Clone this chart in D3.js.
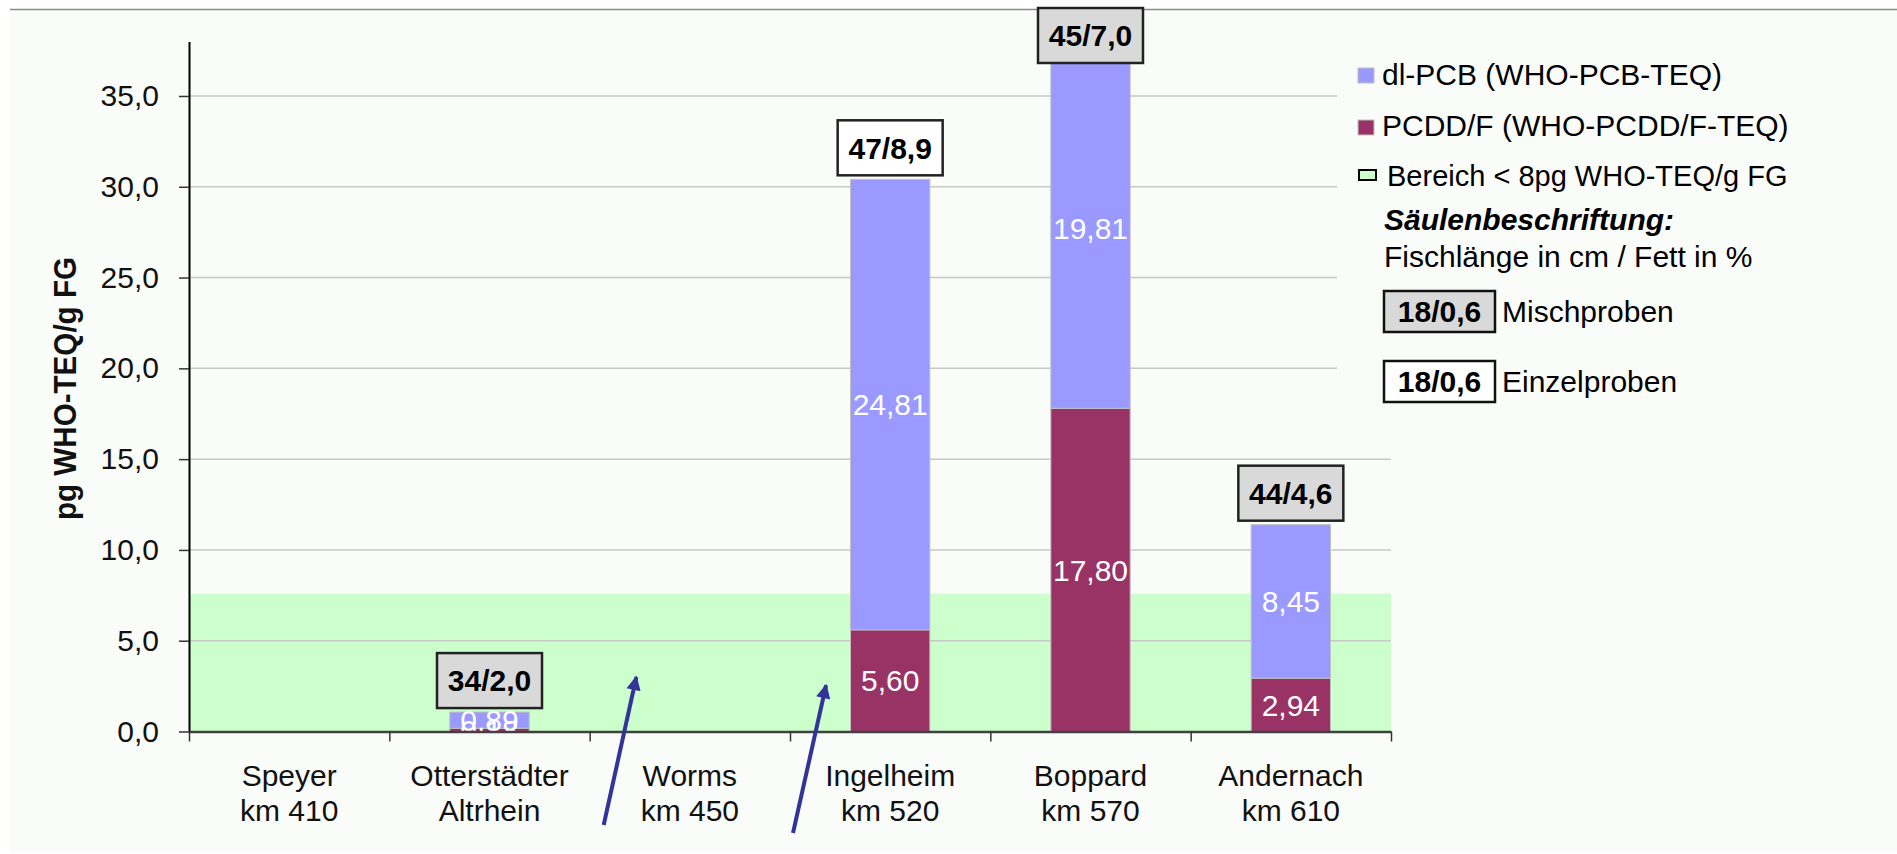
<!DOCTYPE html>
<html>
<head>
<meta charset="utf-8">
<script src="https://cdn.jsdelivr.net/npm/d3@7"></script>
<style>
body { margin: 0; background: #fff; }
text { font-family: "Liberation Sans", Arial, sans-serif; }
</style>
</head>
<body>
<svg id="chart" width="1897" height="854"></svg>
<script>
// sites (two-line category labels)
var siteNames = ["Speyer", "Otterstädter", "Worms", "Ingelheim", "Boppard", "Andernach"];
var siteSub = ["km 410", "Altrhein", "km 450", "km 520", "km 570", "km 610"];

// stacked values, pg WHO-TEQ/g FG
var pcddf = [null, 0.18, null, 5.60, 17.80, 2.94];
var dlpcb = [null, 0.89, null, 24.81, 19.81, 8.45];

// column labels: fish length cm / fat %
var fishLabels = [null, "34/2,0", null, "47/8,9", "45/7,0", "44/4,6"];
var sampleType = [null, "misch", null, "einzel", "misch", "misch"];

var yTicks = [0, 5, 10, 15, 20, 25, 30, 35];
var limitBand = 7.6;   // green area drawn up to here

// arrows pointing at the sites without data: [site, offset in band, value at tip]
var arrowSites = ["Worms", "Ingelheim"];
var arrowTipOffset = [0.233, 0.18];
var arrowTipValue = [3.0, 2.55];
var arrowTailOffset = [0.07, 0.015];

var colPCB = "#9999FF", colPCDD = "#993366", colGreen = "#CCFFCC", bg = "#FAFCF9";

var de = d3.formatLocale({decimal: ",", thousands: ".", grouping: [3], currency: ["", " €"]});
var fmt1 = de.format(".1f"), fmt2 = de.format(".2f");

var svg = d3.select("#chart");
// NB: don't call these top/left... window.top is read only
var pL = 189, pR = 1391, pT = 41.5, pB = 731.5;

var y = d3.scaleLinear().domain([0, 38]).range([pB, pT]);
var xCat = d3.scaleBand().domain(siteNames).range([pL, pR]);          // full category slots
var x = d3.scaleBand().domain(siteNames).range([pL, pR]).paddingInner(0.604).paddingOuter(0.302);
var xIdx = d3.scaleLinear().domain([0, siteNames.length]).range([pL, pR]);

// page background + frame line
svg.append("rect").attr("x", 10).attr("y", 10).attr("width", 1887).attr("height", 842).attr("fill", bg);
svg.append("line").attr("x1", 10).attr("x2", 1897).attr("y1", 9.5).attr("y2", 9.5)
    .attr("stroke", "#8a8a8a").attr("stroke-width", 1.5);

// green "< 8pg" area
svg.append("rect").attr("x", pL).attr("width", pR - pL)
    .attr("y", y(limitBand)).attr("height", y(0) - y(limitBand)).attr("fill", colGreen);

// gridlines
svg.append("g").selectAll("line").data(yTicks.filter(function (d) { return d > 0; })).join("line")
    .attr("x1", pL).attr("x2", pR)
    .attr("y1", function (d) { return y(d); }).attr("y2", function (d) { return y(d); })
    .attr("stroke", "#c8c8c8").attr("stroke-width", 1.5);

// build stack rows
var rows = siteNames.map(function (s, i) {
    return {site: s, pcdd: pcddf[i], pcb: dlpcb[i], label: fishLabels[i], type: sampleType[i]};
}).filter(function (r) { return r.pcdd != null; });

var stack = d3.stack().keys(["pcdd", "pcb"])(rows);
var colors = {pcdd: colPCDD, pcb: colPCB};

var bars = svg.append("g");
stack.forEach(function (layer) {
    bars.selectAll(null).data(layer).join("rect")
        .attr("x", function (d) { return x(d.data.site); })
        .attr("width", x.bandwidth())
        .attr("y", function (d) { return y(d[1]); })
        .attr("height", function (d) { return y(d[0]) - y(d[1]); })
        .attr("fill", colors[layer.key])
        .attr("stroke", "#c0c0c0").attr("stroke-width", 1);
});

// value labels inside segments, clipped to plot
svg.append("clipPath").attr("id", "plotclip").append("rect")
    .attr("x", pL).attr("y", 0).attr("width", pR - pL).attr("height", pB);
var vl = svg.append("g").attr("clip-path", "url(#plotclip)");
stack.forEach(function (layer) {
    vl.selectAll(null).data(layer).join("text")
        .attr("x", function (d) { return x(d.data.site) + x.bandwidth() / 2; })
        .attr("y", function (d) { return (y(d[0]) + y(d[1])) / 2; })
        .attr("dy", "0.36em")
        .attr("text-anchor", "middle")
        .attr("fill", "#fff").attr("font-size", 30)
        .text(function (d) { return fmt2(d.data[layer.key]); });
});

// y axis
var yAxis = svg.append("g").attr("transform", "translate(" + pL + ",0)")
    .call(d3.axisLeft(y).tickValues(yTicks).tickFormat(fmt1).tickSize(10).tickSizeOuter(0).tickPadding(20));
yAxis.select(".domain").attr("stroke", "#000").attr("stroke-width", 2);
yAxis.selectAll(".tick line").attr("stroke", "#333").attr("stroke-width", 1.5);
yAxis.selectAll(".tick text").attr("font-size", 30).attr("fill", "#111")
    .style("font-family", '"Liberation Sans", Arial, sans-serif');

// x axis (slot boundaries as ticks)
var xAxis = svg.append("g").attr("transform", "translate(0," + pB + ")")
    .call(d3.axisBottom(xIdx).tickValues(d3.range(siteNames.length + 1)).tickFormat("").tickSize(10).tickSizeOuter(0));
xAxis.select(".domain").attr("stroke", "#404040").attr("stroke-width", 2.5);
xAxis.selectAll(".tick line").attr("stroke", "#333").attr("stroke-width", 1.5);

var cl = svg.append("g").selectAll("g").data(siteNames).join("g")
    .attr("transform", function (d) { return "translate(" + (xCat(d) + xCat.bandwidth() / 2) + ",0)"; });
cl.append("text").attr("y", 786).attr("text-anchor", "middle").attr("font-size", 30).attr("fill", "#111")
    .text(function (d) { return d; });
cl.append("text").attr("y", 821).attr("text-anchor", "middle").attr("font-size", 30).attr("fill", "#111")
    .text(function (d, i) { return siteSub[i]; });

// y title
svg.append("text").attr("transform", "translate(76,388.5) rotate(-90)")
    .attr("text-anchor", "middle").attr("font-size", 31).attr("font-weight", "bold").attr("fill", "#111")
    .attr("textLength", 263).attr("lengthAdjust", "spacingAndGlyphs")
    .text("pg WHO-TEQ/g FG");

// label boxes above the columns
var bw = 105, bh = 55;
var boxes = svg.append("g").selectAll("g").data(rows).join("g")
    .attr("transform", function (d) {
        var cx = x(d.site) + x.bandwidth() / 2;
        var ty = Math.max(y(d.pcdd + d.pcb) - 4 - bh, 8);
        return "translate(" + (cx - bw / 2) + "," + ty + ")";
    });
boxes.append("rect").attr("width", bw).attr("height", bh)
    .attr("fill", function (d) { return d.type === "misch" ? "#d9d9d9" : "#fff"; })
    .attr("stroke", "#222").attr("stroke-width", 2.5);
boxes.append("text").attr("x", bw / 2).attr("y", bh / 2).attr("dy", "0.36em")
    .attr("text-anchor", "middle").attr("font-size", 30).attr("font-weight", "bold").attr("fill", "#000")
    .text(function (d) { return d.label; });

// legend
var lg = svg.append("g");
lg.append("rect").attr("x", 1337).attr("y", 42).attr("width", 560).attr("height", 376).attr("fill", bg);
lg.append("rect").attr("x", 1358).attr("y", 68).attr("width", 16).attr("height", 15)
    .attr("fill", colPCB).attr("stroke", "#c0c0c0");
lg.append("text").attr("x", 1382).attr("y", 85).attr("font-size", 30).text("dl-PCB (WHO-PCB-TEQ)");
lg.append("rect").attr("x", 1358).attr("y", 120).attr("width", 16).attr("height", 15)
    .attr("fill", colPCDD).attr("stroke", "#c0c0c0");
lg.append("text").attr("x", 1382).attr("y", 136).attr("font-size", 30).text("PCDD/F (WHO-PCDD/F-TEQ)");
lg.append("rect").attr("x", 1359).attr("y", 170).attr("width", 17).attr("height", 10)
    .attr("fill", colGreen).attr("stroke", "#000").attr("stroke-width", 2);
lg.append("text").attr("x", 1387).attr("y", 186).attr("font-size", 29).text("Bereich < 8pg WHO-TEQ/g FG");
lg.append("text").attr("x", 1384).attr("y", 230).attr("font-size", 30)
    .attr("font-weight", "bold").attr("font-style", "italic").text("Säulenbeschriftung:");
lg.append("text").attr("x", 1384).attr("y", 267).attr("font-size", 30).text("Fischlänge in cm / Fett in %");

var legBoxes = [{y: 291, fill: "#d9d9d9", text: "Mischproben"}, {y: 361, fill: "#fff", text: "Einzelproben"}];
legBoxes.forEach(function (b) {
    lg.append("rect").attr("x", 1384).attr("y", b.y).attr("width", 111).attr("height", 41)
        .attr("fill", b.fill).attr("stroke", "#111").attr("stroke-width", 2.5);
    lg.append("text").attr("x", 1439.5).attr("y", b.y + 20.5).attr("dy", "0.36em").attr("text-anchor", "middle")
        .attr("font-size", 30).attr("font-weight", "bold").text("18/0,6");
    lg.append("text").attr("x", 1502).attr("y", b.y + 20.5).attr("dy", "0.36em")
        .attr("font-size", 30).text(b.text);
});

// arrows
svg.append("defs").append("marker").attr("id", "ah")
    .attr("viewBox", "0 0 10 10").attr("refX", 9).attr("refY", 5)
    .attr("markerWidth", 4.2).attr("markerHeight", 3.6).attr("orient", "auto")
    .append("path").attr("d", "M0,0 L10,5 L0,10 Z").attr("fill", "#333399");
arrowSites.forEach(function (s, i) {
    var x0 = xCat(s) + arrowTailOffset[i] * xCat.step();
    var x1 = xCat(s) + arrowTipOffset[i] * xCat.step();
    svg.append("line")
        .attr("x1", x0).attr("y1", 825 + i * 8)
        .attr("x2", x1).attr("y2", y(arrowTipValue[i]))
        .attr("stroke", "#333399").attr("stroke-width", 4)
        .attr("marker-end", "url(#ah)");
});
</script>
</body>
</html>
